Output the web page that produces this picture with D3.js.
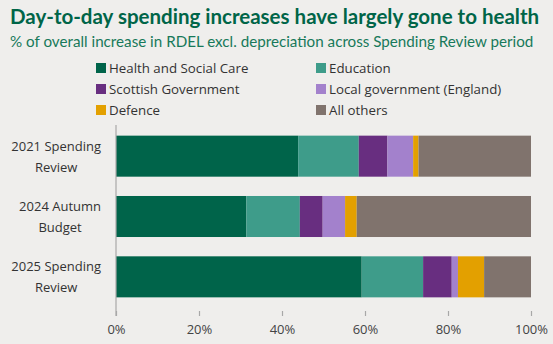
<!DOCTYPE html>
<html>
<head>
<meta charset="utf-8">
<script src="https://cdn.jsdelivr.net/npm/d3@7"></script>
<style>
  html, body { margin: 0; padding: 0; background: #efeeec; }
  svg { display: block; }
</style>
</head>
<body>
<svg id="chart" width="553" height="344"></svg>
<script>
const periods = ["2021 Spending Review", "2024 Autumn Budget", "2025 Spending Review"];
const periodLines = [["2021 Spending", "Review"], ["2024 Autumn", "Budget"], ["2025 Spending", "Review"]];
const categories = ["Health and Social Care", "Education", "Scottish Government",
  "Local government (England)", "Defence", "All others"];
const colors = ["#00644a", "#3e9c8a", "#682e80", "#a381cc", "#e3a000", "#80736d"];

// % of overall increase, one array per category, in period order
const health = [43.9, 31.4, 59.2];
const education = [14.6, 12.9, 14.8];
const scottish = [6.9, 5.5, 6.9];
const localGov = [6.2, 5.4, 1.5];
const defence = [1.3, 2.8, 6.3];
const allOthers = [27.1, 42.0, 11.3];
const xTicks = [0, 20, 40, 60, 80, 100];

const series = [health, education, scottish, localGov, defence, allOthers];
const table = periods.map((p, i) => {
  const row = { period: p };
  categories.forEach((c, j) => { row[c] = series[j][i]; });
  return row;
});

const svg = d3.select("#chart");
const green = "#006548";

svg.append("text")
  .attr("x", 10).attr("y", 24)
  .attr("fill", green)
  .style("font-family", "Lato")
  .style("font-weight", 700)
  .style("font-size", "20.5px")
  .text("Day-to-day spending increases have largely gone to health");

svg.append("text")
  .attr("x", 10).attr("y", 47)
  .attr("fill", "#17795a")
  .style("font-family", "Lato")
  .style("font-size", "15.2px")
  .text("% of overall increase in RDEL excl. depreciation across Spending Review period");

// legend
const legend = svg.append("g")
  .style("font-family", "Open Sans")
  .style("font-size", "13.3px");
categories.forEach((c, i) => {
  const g = legend.append("g")
    .attr("transform", `translate(${i % 2 ? 316 : 96},${68 + Math.floor(i / 2) * 21})`);
  g.append("rect").attr("x", 0).attr("y", -5).attr("width", 10).attr("height", 10)
    .attr("fill", colors[i]);
  g.append("text").attr("x", 13).attr("y", 5).attr("fill", "#333").text(c);
});

const x = d3.scaleLinear().domain([0, 100]).range([116, 531]);
const y = d3.scaleBand().domain(periods).range([126, 307])
  .paddingInner(0.32).paddingOuter(0.16);

const stack = d3.stack().keys(categories);
const stacked = stack(table);

svg.append("g")
  .selectAll("g")
  .data(stacked)
  .join("g")
  .attr("fill", (d, i) => colors[i])
  .selectAll("rect")
  .data(d => d)
  .join("rect")
  .attr("x", d => x(d[0]))
  .attr("width", d => x(d[1]) - x(d[0]))
  .attr("y", d => y(d.data.period))
  .attr("height", y.bandwidth());

// y axis line
svg.append("line")
  .attr("x1", x(0)).attr("x2", x(0))
  .attr("y1", 125).attr("y2", 316)
  .attr("stroke", "#a8a8a8").attr("stroke-width", 1.2);

// x axis
const xAxis = svg.append("g")
  .attr("transform", "translate(0,311)")
  .call(d3.axisBottom(x).tickValues(xTicks).tickFormat(d => d + "%").tickSize(5).tickPadding(9));
xAxis.select(".domain").remove();
xAxis.selectAll("line").attr("stroke", "#a8a8a8").attr("stroke-width", 1.2);
xAxis.selectAll("text")
  .attr("fill", "#444")
  .style("font-family", "Open Sans")
  .style("font-size", "13px");

// y labels, two centred lines right-aligned as a block
const yLabels = svg.append("g")
  .style("font-family", "Open Sans")
  .style("font-size", "13px")
  .attr("fill", "#333");
periods.forEach((p, i) => {
  const cy = y(p) + y.bandwidth() / 2;
  const t = yLabels.append("text").attr("text-anchor", "middle");
  periodLines[i].forEach((line, k) => {
    t.append("tspan").attr("y", cy + (k === 0 ? -5.5 : 15.5)).text(line);
  });
  const w = d3.max(t.selectAll("tspan").nodes(), n => n.getComputedTextLength());
  t.selectAll("tspan").attr("x", 101 - w / 2);
});
</script>
</body>
</html>
